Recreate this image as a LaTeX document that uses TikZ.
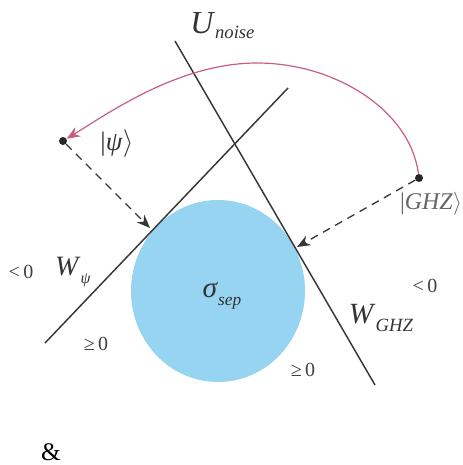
\documentclass[tikz,border=0pt]{standalone}
\usepackage{fontspec}
\setmainfont{Liberation Serif}
\usepackage{xcolor}
\usepackage{amsmath,amssymb}
\usetikzlibrary{positioning,arrows.meta,shapes.geometric}

\definecolor{linegray}{RGB}{55,55,55}
\definecolor{sepblue}{RGB}{150,212,242}
\definecolor{arcred}{RGB}{198,96,122}

\begin{document}
\begin{tikzpicture}[x=0.75pt, y=-0.75pt]
    \tikzset{
      hplane/.style = {draw=linegray, line width=1.1pt},
      probe/.style = {draw=linegray, line width=1pt, dash pattern=on 6pt off 4.5pt, -{Stealth[length=10pt,width=8pt]}},
      noisearc/.style = {draw=arcred, line width=0.9pt, -{Stealth[length=10pt,width=8pt]}},
      state/.style = {circle, fill=black!85, inner sep=0pt, minimum size=6pt},
      lbl/.style = {inner sep=0pt, text=black!80},
      sign/.style = {inner sep=0pt, text=black!75, font=\fontsize{15}{15}\selectfont}
    }
    \useasboundingbox (0,0) rectangle (463,465);

    % separable set
    \fill[sepblue] (218,291) ellipse [x radius=87, y radius=91];
    \node (sep) [lbl, font=\fontsize{22}{22}\selectfont] at (222,296) {\textit{σ}\raisebox{-6pt}{\fontsize{13}{13}\selectfont\textit{sep}}};

    % witness planes
    \coordinate (wpsiA) at (45,343);
    \coordinate (wpsiB) at (288,88);
    \coordinate (wghzA) at (175,41);
    \coordinate (wghzB) at (375,385);
    \coordinate (tpsi) at (150,228);
    \coordinate (tghz) at (297,247);
    \coordinate (arctop) at (257,63);
    \draw [hplane] (wpsiA) -- (wpsiB);
    \draw [hplane] (wghzA) -- (wghzB);

    % states
    \node (psi) [state] at (63,141) {};
    \node (ghz) [state] at (419,178) {};
    \node (psilbl) [lbl, font=\fontsize{20}{20}\selectfont] at (117,144) {|\textit{ψ}$\rangle$};
    \node (ghzlbl) [lbl, text=black!60, font=\fontsize{18}{18}\selectfont] at (431,204) {|\textit{GHZ}$\rangle$};

    \draw [probe] (psi) -- (tpsi);
    \draw [probe] (ghz) -- (tghz);
    \draw [noisearc] (ghz) .. controls (410,110) and (335,63) .. (arctop)
                     .. controls (180,63) and (110,112) .. (psi);

    % labels
    \node (unoise) [lbl, anchor=base west, font=\fontsize{24}{24}\selectfont] at (190,33) {\textit{U}\raisebox{-4pt}{\fontsize{14}{14}\selectfont\textit{noise}}};
    \node (wpsi) [lbl, font=\fontsize{21}{21}\selectfont] at (73,272) {\textit{W}\raisebox{-6pt}{\fontsize{12}{12}\selectfont\textit{ψ}}};
    \node (wghz) [lbl, font=\fontsize{22}{22}\selectfont] at (381,318) {\textit{W}\raisebox{-6pt}{\fontsize{14}{14}\selectfont\textit{GHZ}}};
    \node (negl) [sign] at (21,272) {<\,0};
    \node (posl) [sign] at (96,344) {≥\,0};
    \node (negr) [sign] at (425,286) {<\,0};
    \node (posr) [sign] at (303,370) {≥\,0};
    \node (amp) [lbl, text=black, font=\fontsize{19}{19}\selectfont] at (51,452) {\&};
\end{tikzpicture}
\end{document}
